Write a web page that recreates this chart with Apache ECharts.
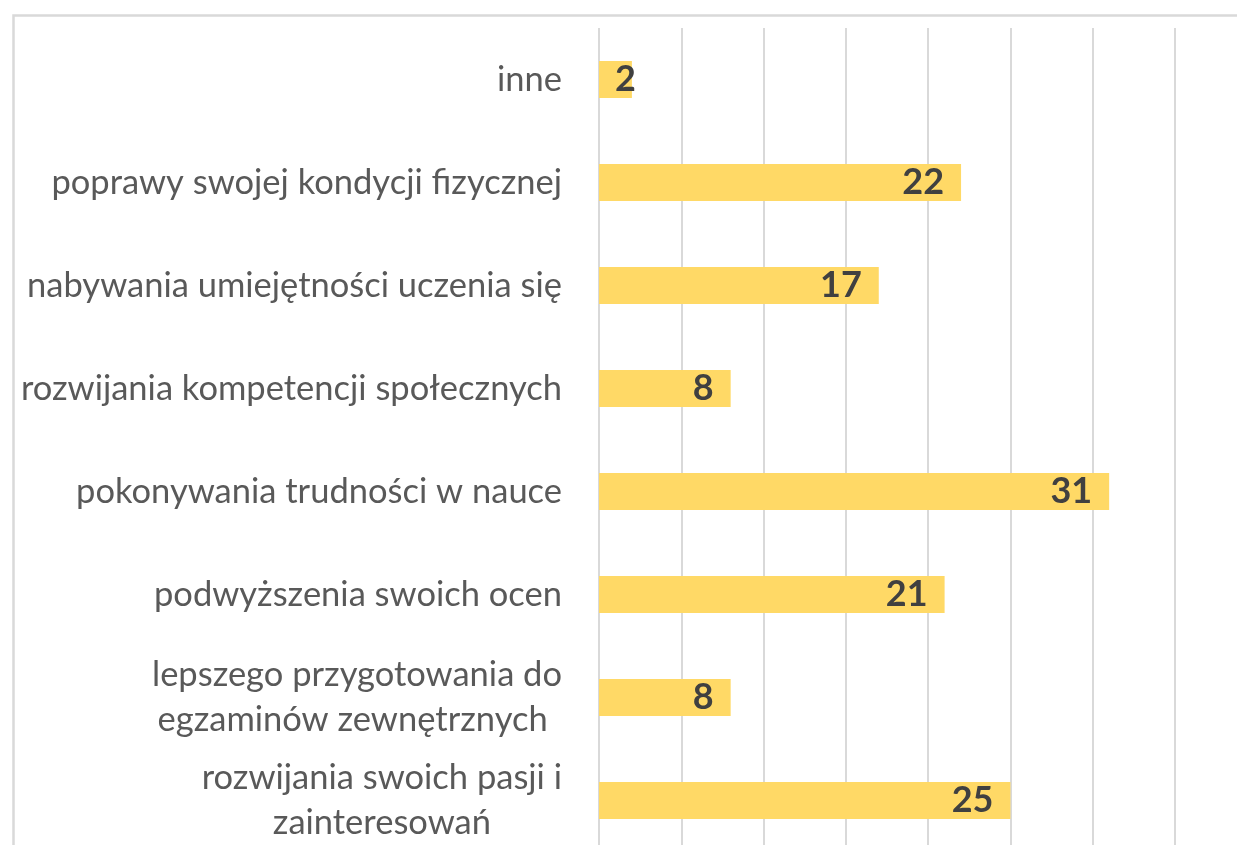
<!DOCTYPE html>
<html>
<head>
<meta charset="utf-8">
<script src="https://cdn.jsdelivr.net/npm/echarts@6/dist/echarts.min.js"></script>
<style>
  html, body { margin: 0; padding: 0; background: #fff; }
  #chart { width: 1237px; height: 845px; }
</style>
</head>
<body>
<div id="chart"></div>
<script>
// kategorie od góry do dołu
const categories = [
    'inne',
    'poprawy swojej kondycji fizycznej',
    'nabywania umiejętności uczenia się',
    'rozwijania kompetencji społecznych',
    'pokonywania trudności w nauce',
    'podwyższenia swoich ocen',
    'lepszego przygotowania do\negzaminów zewnętrznych ',
    'rozwijania swoich pasji i\nzainteresowań'
];
const values = [2, 22, 17, 8, 31, 21, 8, 25];
const axisTicks = [0, 5, 10, 15, 20, 25, 30, 35];

const chart = echarts.init(document.getElementById('chart'));

const option = {
    animation: false,
    graphic: [
        {
            type: 'rect',
            left: 11,
            top: 13,
            shape: { width: 1300, height: 900 },
            style: { fill: 'none', stroke: '#d9d9d9', lineWidth: 2.5 },
            silent: true
        }
    ],
    grid: {
        left: 599,
        top: 28,
        width: 576,
        height: 824,
        outerBoundsMode: 'none',
        containLabel: false
    },
    xAxis: {
        type: 'value',
        min: axisTicks[0],
        max: axisTicks[axisTicks.length - 1],
        interval: axisTicks[1] - axisTicks[0],
        axisLabel: { show: false },
        axisLine: { show: false },
        axisTick: { show: false },
        splitLine: { lineStyle: { color: '#d9d9d9', width: 2 } }
    },
    yAxis: {
        type: 'category',
        inverse: true,
        data: categories,
        axisLine: { show: false },
        axisTick: { show: false },
        axisLabel: {
            margin: 37,
            color: '#595959',
            fontFamily: 'Lato',
            fontSize: 34.5,
            lineHeight: 45,
            formatter: function (v) {
                return v.split('\n').map(function (s) { return '{c|' + s + '}'; }).join('\n');
            },
            rich: {
                c: {
                    align: 'center',
                    color: '#595959',
                    fontFamily: 'Lato',
                    fontSize: 34.5,
                    lineHeight: 45
                }
            }
        }
    },
    series: [
        {
            type: 'bar',
            barWidth: 37,
            itemStyle: { color: '#ffd966' },
            label: {
                show: true,
                position: 'insideRight',
                distance: 17,
                color: '#404040',
                fontFamily: 'Lato',
                fontWeight: 'bold',
                fontSize: 36
            },
            data: values.map(function (v) {
                // krótki słupek: etykieta od lewej krawędzi
                if (v < 4) {
                    return { value: v, label: { position: 'insideLeft', distance: 16 } };
                }
                return v;
            })
        }
    ]
};

chart.setOption(option);
</script>
</body>
</html>
